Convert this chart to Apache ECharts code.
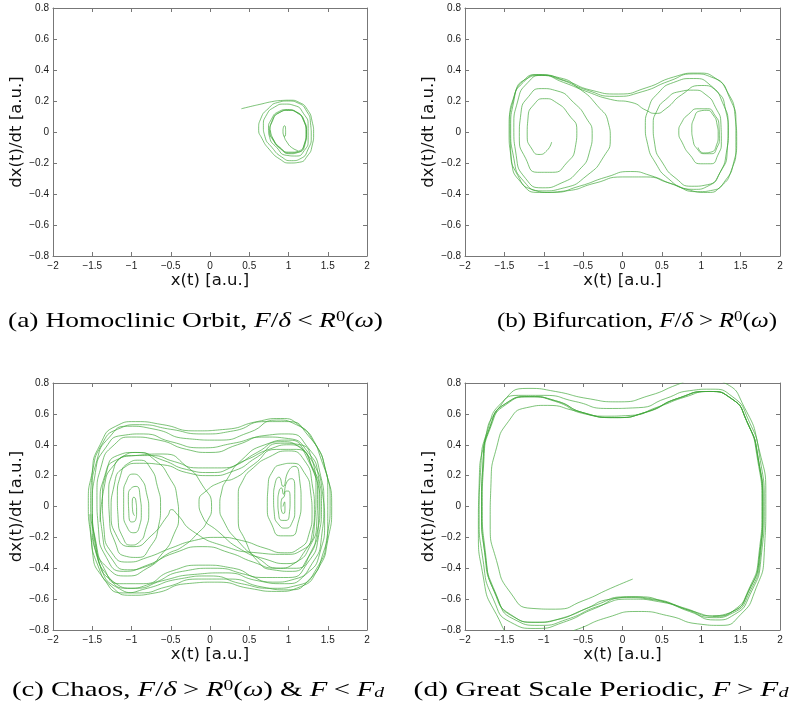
<!DOCTYPE html>
<html>
<head>
<meta charset="utf-8">
<script src="https://cdn.jsdelivr.net/npm/echarts@6/dist/echarts.min.js"></script>
<style>
  html, body { margin: 0; padding: 0; background: #fff; }
  #chart { width: 792px; height: 712px; }
</style>
</head>
<body>
<div id="chart"></div>
<script>
// Phase portraits of a driven double-well oscillator: x(t) against dx(t)/dt.

const xLimits = [-2, 2];
const xStep = 0.5;
const vLimits = [-0.8, 0.8];
const vStep = 0.2;
const xAxisTitle = 'x(t) [a.u.]';
const vAxisTitle = 'dx(t)/dt [a.u.]';

// (a) homoclinic orbit: transient settling onto the small cycle of the right well
const homoclinicOrbit = [
  [0.40,0.15],[0.52,0.165],[0.65,0.18],[0.78,0.195],[0.90,0.203],[1.02,0.205],[1.14,0.19],[1.24,0.145],
  [1.30,0.07],[1.32,-0.01],[1.30,-0.09],[1.24,-0.155],[1.14,-0.195],[1.02,-0.2],[0.89,-0.175],[0.76,-0.115],
  [0.66,-0.04],[0.62,0.02],[0.65,0.09],[0.74,0.15],[0.86,0.19],[1.0,0.2],[1.13,0.185],[1.23,0.135],
  [1.28,0.06],[1.29,-0.03],[1.25,-0.11],[1.16,-0.17],[1.04,-0.185],[0.91,-0.16],[0.79,-0.1],[0.7,-0.03],
  [0.68,0.04],[0.72,0.11],[0.82,0.16],[0.95,0.18],[1.08,0.17],[1.19,0.12],[1.25,0.04],[1.25,-0.05],
  [1.2,-0.12],[1.1,-0.155],[0.97,-0.15],[0.85,-0.1],[0.76,-0.035],[0.745,0.02],[0.78,0.08],[0.87,0.13],
  [0.99,0.145],[1.1,0.13],[1.19,0.08],[1.23,0.0],[1.21,-0.08],[1.13,-0.13],[1.02,-0.14],[0.9,-0.11],
  [0.8,-0.05],[0.76,0.0],[0.79,0.07],[0.88,0.125],[1.0,0.14],[1.11,0.125],[1.19,0.075],[1.225,0.0],
  [1.2,-0.08],[1.12,-0.125],[1.02,-0.135],[0.9,-0.105],[0.8,-0.045],[0.765,0.005],[0.795,0.07],[0.885,0.125],
  [1.0,0.14],[1.12,0.12],[1.2,0.07],[1.225,-0.01],[1.2,-0.085],[1.11,-0.13],[1.0,-0.13],[0.89,-0.1],
  [0.8,-0.04],[0.77,0.01]
];
const homoclinicCore = [
  [1.12,-0.12],[1.04,-0.1],[0.98,-0.065],[0.945,-0.03],[0.93,0.005],[0.935,0.03],[0.95,0.04],[0.962,0.025],
  [0.963,-0.005],[0.953,-0.028],[0.938,-0.025]
];

// (b) bifurcation: left-well spiral, hops across, ends circling the right well
const bifurcationPath = [
  [-0.90,-0.065],[-0.96,-0.12],[-1.06,-0.145],[-1.15,-0.11],[-1.21,-0.02],[-1.2,0.09],[-1.12,0.18],[-0.99,0.215],
  [-0.84,0.19],[-0.68,0.11],[-0.58,0.01],[-0.6,-0.1],[-0.71,-0.2],[-0.89,-0.26],[-1.08,-0.26],[-1.23,-0.17],
  [-1.31,-0.03],[-1.29,0.12],[-1.19,0.23],[-1.03,0.28],[-0.83,0.265],[-0.62,0.19],[-0.46,0.09],[-0.385,-0.01],
  [-0.42,-0.13],[-0.56,-0.25],[-0.78,-0.33],[-1.02,-0.36],[-1.23,-0.3],[-1.35,-0.15],[-1.38,0.03],[-1.33,0.2],
  [-1.2,0.32],[-1.02,0.365],[-0.8,0.35],[-0.55,0.28],[-0.32,0.17],[-0.18,0.06],[-0.155,-0.04],[-0.24,-0.16],
  [-0.45,-0.28],[-0.74,-0.36],[-1.02,-0.38],[-1.25,-0.32],[-1.38,-0.17],[-1.42,0.02],[-1.38,0.2],[-1.26,0.33],
  [-1.07,0.37],[-0.8,0.34],[-0.45,0.27],[-0.1,0.23],[0.25,0.26],[0.6,0.33],[0.9,0.375],[1.15,0.35],
  [1.33,0.26],[1.43,0.1],[1.45,-0.06],[1.41,-0.2],[1.31,-0.31],[1.15,-0.375],[0.95,-0.385],[0.65,-0.34],[0.35,-0.28],
  [0.1,-0.255],[-0.2,-0.29],[-0.55,-0.35],[-0.9,-0.39],[-1.15,-0.37],[-1.33,-0.28],[-1.42,-0.12],[-1.43,0.07],
  [-1.37,0.24],[-1.23,0.34],[-1.03,0.365],[-0.75,0.32],[-0.45,0.26],[-0.15,0.21],[0.12,0.19],[0.3,0.14],
  [0.42,0.12],[0.55,0.15],[0.75,0.24],[1.0,0.3],[1.2,0.26],[1.31,0.14],[1.345,0.0],[1.32,-0.13],[1.24,-0.26],
  [1.1,-0.345],[0.9,-0.37],[0.6,-0.33],[0.3,-0.29],[0.0,-0.29],[-0.35,-0.33],[-0.72,-0.38],[-1.05,-0.39],
  [-1.28,-0.33],[-1.41,-0.18],[-1.44,0.02],[-1.39,0.2],[-1.26,0.32],[-1.05,0.37],[-0.72,0.33],[-0.4,0.27],
  [-0.05,0.245],[0.3,0.285],[0.65,0.355],[0.95,0.38],[1.2,0.34],[1.36,0.22],[1.44,0.06],[1.44,-0.1],[1.38,-0.25],
  [1.25,-0.35],[1.08,-0.39],[0.82,-0.37],[0.58,-0.3],[0.42,-0.2],[0.32,-0.08],[0.29,0.04],[0.33,0.15],
  [0.45,0.25],[0.65,0.32],[0.9,0.345],[1.12,0.3],[1.27,0.19],[1.34,0.04],[1.33,-0.12],[1.24,-0.26],
  [1.08,-0.34],[0.88,-0.35],[0.68,-0.3],[0.51,-0.2],[0.41,-0.08],[0.39,0.04],[0.44,0.14],[0.55,0.21],[0.72,0.26],
  [0.9,0.27],[1.06,0.24],[1.18,0.16],[1.25,0.05],[1.255,-0.06],[1.21,-0.15],[1.12,-0.205],[0.99,-0.205],[0.86,-0.15],
  [0.76,-0.07],[0.715,0.0],[0.75,0.06],[0.84,0.115],[0.96,0.15],[1.08,0.15],[1.17,0.11],[1.225,0.04],[1.23,-0.04],
  [1.2,-0.1],[1.13,-0.14],[1.04,-0.14],[0.95,-0.11],[0.895,-0.05],[0.88,0.02],[0.91,0.09],[0.98,0.135],[1.07,0.14],
  [1.15,0.11],[1.2,0.05],[1.215,-0.02],[1.19,-0.09],[1.12,-0.13],[1.03,-0.135],[0.96,-0.1]
];

// (c) chaos: three pieces of one long wandering trajectory
const chaosLeft = [
  [-0.96,-0.06],[-0.985,-0.03],[-0.99,0.03],[-0.97,0.06],[-0.945,0.04],[-0.935,-0.03],[-0.95,-0.09],[-1.0,-0.1],
  [-1.035,-0.03],[-1.04,0.06],[-1.0,0.12],[-0.94,0.13],[-0.89,0.06],[-0.875,-0.04],[-0.9,-0.13],[-0.97,-0.17],
  [-1.05,-0.14],[-1.1,-0.04],[-1.1,0.08],[-1.06,0.17],[-0.98,0.21],[-0.88,0.18],[-0.81,0.09],[-0.78,-0.03],
  [-0.82,-0.15],[-0.9,-0.23],[-1.01,-0.25],[-1.11,-0.2],[-1.17,-0.08],[-1.18,0.07],[-1.14,0.2],[-1.04,0.28],
  [-0.9,0.3],[-0.76,0.25],[-0.67,0.13],[-0.63,0.0],[-0.66,-0.14],[-0.76,-0.26],[-0.92,-0.33],[-1.09,-0.32],
  [-1.21,-0.23],[-1.28,-0.08],[-1.29,0.08],[-1.24,0.22],[-1.12,0.32],[-0.92,0.35],[-0.7,0.3],[-0.52,0.19],
  [-0.42,0.06],[-0.4,-0.06],[-0.46,-0.18],[-0.6,-0.3],[-0.82,-0.39],[-1.05,-0.41],[-1.25,-0.34],[-1.37,-0.18],
  [-1.4,0.02],[-1.34,0.2],[-1.2,0.3],[-0.95,0.33],[-0.6,0.34],[-0.3,0.26],[-0.1,0.14],[0.02,0.0],
  [-0.04,-0.1],[-0.15,-0.17],[-0.35,-0.26],[-0.55,-0.31],[-0.8,-0.4],[-1.05,-0.45],[-1.3,-0.4],[-1.45,-0.24],
  [-1.5,0.0],[-1.46,0.22],[-1.33,0.38],[-1.12,0.46],[-0.85,0.47],[-0.5,0.42],[-0.1,0.38],[0.3,0.41],
  [0.7,0.45],[1.0,0.44],[1.25,0.35],[1.38,0.2],[1.42,0.0],[1.38,-0.2],[1.25,-0.36],[1.0,-0.46],
  [0.65,-0.46],[0.3,-0.4],[-0.1,-0.38],[-0.5,-0.42],[-0.85,-0.5],[-1.15,-0.5],[-1.35,-0.4],[-1.47,-0.2],
  [-1.52,0.02],[-1.5,0.22],[-1.4,0.4],[-1.2,0.52],[-0.95,0.55],[-0.6,0.53],[-0.2,0.49],[0.2,0.5],
  [0.6,0.55],[0.9,0.57],[1.15,0.52],[1.35,0.4],[1.48,0.22],[1.55,0.0],[1.5,-0.22],[1.38,-0.4],
  [1.15,-0.52],[0.85,-0.55],[0.5,-0.53],[0.1,-0.49],[-0.3,-0.5],[-0.7,-0.56],[-1.0,-0.575],[-1.25,-0.52],
  [-1.43,-0.38],[-1.52,-0.18],[-1.55,0.02],[-1.5,0.22],[-1.38,0.4],[-1.18,0.5],[-0.9,0.53],[-0.5,0.5],
  [-0.1,0.47],[0.3,0.49],[0.7,0.55],[1.0,0.55],[1.25,0.46],[1.42,0.3],[1.5,0.1],[1.5,-0.12],
  [1.43,-0.32],[1.27,-0.47],[1.0,-0.54],[0.65,-0.52],[0.25,-0.47],[-0.15,-0.47],[-0.55,-0.52],[-0.9,-0.56],
  [-1.2,-0.52],[-1.4,-0.38],[-1.49,-0.18]
];
const chaosRight = [
  [0.93,0.0],[0.95,0.03],[0.955,-0.01],[0.94,-0.045],[0.915,-0.035],[0.905,0.01],[0.915,0.05],[0.94,0.06],
  [0.97,0.1],[1.0,0.1],[1.02,0.04],[1.01,-0.05],[0.97,-0.09],[0.92,-0.09],[0.875,-0.05],[0.865,0.03],
  [0.88,0.1],[0.91,0.12],[0.935,0.08],[0.98,0.16],[1.04,0.18],[1.08,0.11],[1.08,-0.02],[1.04,-0.11],
  [0.96,-0.14],[0.88,-0.12],[0.82,-0.05],[0.81,0.06],[0.83,0.15],[0.88,0.19],[0.93,0.13],[1.0,0.23],
  [1.08,0.26],[1.14,0.18],[1.16,0.03],[1.12,-0.11],[1.03,-0.19],[0.9,-0.19],[0.79,-0.12],[0.73,0.0],
  [0.74,0.13],[0.8,0.23],[0.9,0.27],[1.05,0.28],[1.2,0.22],[1.28,0.1],[1.3,-0.05],[1.26,-0.18],
  [1.14,-0.27],[0.95,-0.3],[0.7,-0.27],[0.4,-0.22],[0.1,-0.2],[-0.2,-0.22],[-0.5,-0.27],[-0.8,-0.33],
  [-1.05,-0.36],[-1.25,-0.3],[-1.35,-0.15],[-1.37,0.05],[-1.32,0.22],[-1.18,0.33],[-0.95,0.35],[-0.6,0.3],
  [-0.3,0.24],[0.0,0.22],[0.3,0.26],[0.6,0.35],[0.9,0.42],[1.15,0.38],[1.3,0.25],[1.37,0.08],
  [1.36,-0.1],[1.27,-0.26],[1.1,-0.36],[0.85,-0.4],[0.55,-0.36],[0.25,-0.3],[-0.1,-0.26],[-0.45,-0.3],
  [-0.8,-0.38],[-1.1,-0.42],[-1.32,-0.33],[-1.42,-0.15],[-1.44,0.07],[-1.38,0.27],[-1.22,0.4],[-1.0,0.45],
  [-0.65,0.43],[-0.3,0.37],[0.0,0.35],[0.35,0.4],[0.7,0.46],[1.0,0.47],[1.25,0.38],[1.4,0.22],
  [1.45,0.02],[1.42,-0.2],[1.3,-0.37],[1.08,-0.47],[0.8,-0.49],[0.45,-0.44],[0.05,-0.4],[-0.35,-0.42],
  [-0.75,-0.5],[-1.05,-0.53],[-1.3,-0.45],[-1.45,-0.28],[-1.5,-0.05]
];
const chaosArcs = [
  [-1.4,-0.1],[-1.35,0.12],[-1.22,0.27],[-1.0,0.33],[-0.75,0.33],[-0.45,0.29],[-0.15,0.25],[0.15,0.25],
  [0.45,0.3],[0.75,0.37],[1.02,0.4],[1.25,0.3],[1.35,0.1],[1.33,-0.12],[1.22,-0.28],[0.98,-0.37],
  [0.7,-0.34],[0.4,-0.28],[0.1,-0.16],[-0.1,-0.06],[-0.14,0.03],[-0.05,0.1],[0.15,0.16],[0.3,0.18],
  [0.55,0.27],[0.85,0.37],[1.1,0.37],[1.3,0.26],[1.39,0.08],[1.38,-0.12],[1.28,-0.3],[1.1,-0.4],
  [0.9,-0.4],[0.6,-0.33],[0.35,-0.22],[0.18,-0.1],[0.125,0.0],[0.15,0.1],[0.21,0.17],[0.4,0.3],
  [0.7,0.4],[1.0,0.43],[1.22,0.35],[1.35,0.2],[1.4,0.0],[1.36,-0.18],[1.25,-0.33],[1.05,-0.42],
  [0.8,-0.41],[0.6,-0.35],[0.45,-0.22],[0.36,-0.08],[0.36,0.06],[0.42,0.17],[0.55,0.25],[0.75,0.32],
  [1.0,0.36],[1.2,0.3],[1.3,0.15],[1.33,-0.02],[1.3,-0.18],[1.18,-0.28],[0.95,-0.31],[0.6,-0.3],
  [0.2,-0.26],[-0.22,-0.16],[-0.42,-0.05],[-0.49,-0.02],[-0.54,-0.06],[-0.75,-0.19],[-0.98,-0.26],[-1.18,-0.2],
  [-1.26,-0.03],[-1.22,0.14],[-1.1,0.25],[-0.9,0.28],[-0.6,0.27],[-0.3,0.22],[0.0,0.2],[0.3,0.23],
  [0.6,0.32],[0.9,0.41],[1.15,0.4],[1.32,0.28],[1.43,0.1],[1.46,-0.1],[1.4,-0.3],[1.22,-0.44],
  [0.95,-0.5],[0.6,-0.48],[0.2,-0.43],[-0.2,-0.44],[-0.6,-0.48],[-0.95,-0.53],[-1.25,-0.48],[-1.43,-0.33],
  [-1.5,-0.12],[-1.5,0.1],[-1.44,0.3],[-1.28,0.45],[-1.05,0.52],[-0.7,0.5],[-0.3,0.44],[0.1,0.43],
  [0.5,0.48],[0.85,0.56],[1.1,0.53],[1.32,0.42],[1.47,0.24],[1.53,0.03],[1.49,-0.2],[1.36,-0.4],
  [1.12,-0.51],[0.8,-0.53],[0.4,-0.5],[0.0,-0.45],[-0.4,-0.47],[-0.8,-0.53],[-1.1,-0.56],[-1.35,-0.47],
  [-1.5,-0.28],[-1.53,-0.05]
];

// (d) great scale periodic: orbit encircling both wells, converging to a large cycle
const periodicPath = [
  [0.13,-0.47],[-0.15,-0.53],[-0.5,-0.61],[-0.85,-0.665],[-1.15,-0.66],[-1.42,-0.56],[-1.6,-0.35],[-1.68,-0.1],
  [-1.67,0.15],[-1.6,0.38],[-1.45,0.55],[-1.22,0.64],[-0.95,0.655],[-0.6,0.62],[-0.25,0.585],[0.1,0.59],
  [0.45,0.645],[0.8,0.71],[1.1,0.745],[1.38,0.7],[1.58,0.55],[1.71,0.32],[1.77,0.0],[1.73,-0.32],
  [1.6,-0.54],[1.42,-0.67],[1.2,-0.71],[0.9,-0.68],[0.55,-0.62],[0.2,-0.585],[-0.15,-0.6],[-0.5,-0.67],
  [-0.85,-0.735],[-1.1,-0.75],[-1.4,-0.71],[-1.62,-0.55],[-1.74,-0.3],[-1.78,0.0],[-1.76,0.3],[-1.67,0.52],
  [-1.48,0.66],[-1.18,0.71],[-0.85,0.68],[-0.48,0.6],[-0.1,0.576],[0.3,0.61],[0.7,0.7],[1.1,0.745],
  [1.38,0.7],[1.58,0.55],[1.72,0.32],[1.78,0.0],[1.74,-0.32],[1.6,-0.55],[1.4,-0.68],[1.15,-0.71],
  [0.8,-0.66],[0.4,-0.6],[0.05,-0.585],[-0.35,-0.64],[-0.75,-0.72],[-1.1,-0.75],[-1.42,-0.7],[-1.63,-0.55],
  [-1.75,-0.3],[-1.79,0.0],[-1.77,0.3],[-1.68,0.52],[-1.49,0.665],[-1.18,0.712],[-0.85,0.685],[-0.48,0.605],
  [-0.1,0.576],[0.3,0.612],[0.7,0.7],[1.1,0.745],[1.38,0.7],[1.58,0.55],[1.72,0.32],[1.785,0.0],
  [1.75,-0.32],[1.61,-0.56],[1.4,-0.69],[1.15,-0.72],[0.8,-0.665],[0.4,-0.605],[0.05,-0.59],[-0.35,-0.66],
  [-0.75,-0.75],[-1.1,-0.79],[-1.42,-0.75],[-1.64,-0.6],[-1.77,-0.35],[-1.82,-0.05],[-1.8,0.25],[-1.71,0.5],
  [-1.52,0.68],[-1.2,0.765],[-0.85,0.745],[-0.45,0.7],[-0.05,0.678],[0.35,0.72],[0.7,0.79],[1.0,0.84],
  [1.3,0.8],[1.55,0.64],[1.73,0.38],[1.82,0.05],[1.8,-0.3],[1.68,-0.55],[1.5,-0.7],[1.25,-0.77],
  [0.95,-0.76],[0.6,-0.71],[0.2,-0.68],[-0.2,-0.72],[-0.6,-0.8],[-1.0,-0.86],[-1.35,-0.84],[-1.6,-0.7],
  [-1.77,-0.45],[-1.83,-0.15],[-1.82,0.15],[-1.75,0.42],[-1.58,0.63],[-1.32,0.72],[-1.0,0.72],[-0.6,0.68],
  [-0.2,0.635],[0.2,0.64],[0.55,0.7],[0.85,0.75],[1.12,0.76],[1.4,0.71],[1.6,0.56],[1.74,0.33],
  [1.8,0.0],[1.76,-0.33],[1.62,-0.57],[1.42,-0.7],[1.18,-0.735],[0.85,-0.68],[0.5,-0.62],[0.1,-0.6],
  [-0.3,-0.645],[-0.7,-0.73],[-1.05,-0.77],[-1.38,-0.73],[-1.6,-0.58],[-1.74,-0.33],[-1.79,-0.02],[-1.77,0.29],
  [-1.68,0.52],[-1.49,0.665],[-1.18,0.712],[-0.85,0.685],[-0.48,0.605],[-0.1,0.576],[0.3,0.612],[0.7,0.7],
  [1.1,0.745],[1.38,0.7],[1.58,0.55],[1.72,0.32],[1.78,-0.01],[1.74,-0.32],[1.6,-0.55],[1.4,-0.68],
  [1.15,-0.71]
];

// Sub-figure captions (rich-text markup: r = roman, i = italic, o = relation, s = superscript, b = subscript)
const captions = [
  '{r|(a) Homoclinic Orbit, }{i|F}{r|/}{i|δ}{o|<}{i|R}{s|0}{r|(}{i|ω}{r|)}',
  '{r|(b) Bifurcation, }{i|F}{r|/}{i|δ}{o|>}{i|R}{s|0}{r|(}{i|ω}{r|)}',
  '{r|(c) Chaos, }{i|F}{r|/}{i|δ}{o|>}{i|R}{s|0}{r|(}{i|ω}{r|) & }{i|F}{o|<}{i|F}{b|d}',
  '{r|(d) Great Scale Periodic, }{i|F}{o|>}{i|F}{b|d}'
];

const LINE_COLOR = '#3fa637';
const FRAME_COLOR = '#777777';

const panels = [
  { box: { left: 53, top: 8, width: 314, height: 248 }, traces: [homoclinicOrbit, homoclinicCore], cap: [195.5, 321], capScale: 1.25 },
  { box: { left: 465, top: 8, width: 315, height: 248 }, traces: [bifurcationPath], cap: [637, 321], capScale: 1.14 },
  { box: { left: 53, top: 383, width: 314, height: 247 }, traces: [chaosLeft, chaosRight, chaosArcs], cap: [198, 690], capScale: 1.31 },
  { box: { left: 465, top: 383, width: 315, height: 247 }, traces: [periodicPath], cap: [601, 690], capScale: 1.34 }
];

function tickText(v) {
  const s = String(Math.round(v * 100) / 100);
  return s.replace('-', '\u2212');
}

const grid = [], xAxis = [], yAxis = [], series = [], graphic = [];
const frameLine = { lineStyle: { color: FRAME_COLOR, width: 1 } };
const tickIn = { inside: true, length: 4, lineStyle: { color: FRAME_COLOR, width: 1 } };
const labelStyle = { fontFamily: 'Liberation Sans', fontSize: 10, color: '#1a1a1a' };

panels.forEach((p, i) => {
  grid.push(Object.assign({ containLabel: false, outerBoundsMode: 'none' }, p.box));
  const xBase = { gridIndex: i, type: 'value', min: xLimits[0], max: xLimits[1], interval: xStep, splitLine: { show: false } };
  const yBase = { gridIndex: i, type: 'value', min: vLimits[0], max: vLimits[1], interval: vStep, splitLine: { show: false } };
  xAxis.push(Object.assign({}, xBase, {
    position: 'bottom',
    axisLine: Object.assign({ onZero: false }, frameLine),
    axisTick: tickIn,
    axisLabel: Object.assign({ formatter: tickText, margin: 5, showMinLabel: true, showMaxLabel: true }, labelStyle),
    name: xAxisTitle, nameLocation: 'middle', nameGap: 15,
    nameTextStyle: { fontFamily: 'DejaVu Sans', fontSize: 16.5, color: '#111' }
  }));
  xAxis.push(Object.assign({}, xBase, {
    position: 'top',
    axisLine: Object.assign({ onZero: false }, frameLine),
    axisTick: tickIn, axisLabel: { show: false }
  }));
  yAxis.push(Object.assign({}, yBase, {
    position: 'left',
    axisLine: Object.assign({ onZero: false }, frameLine),
    axisTick: tickIn,
    axisLabel: Object.assign({ formatter: tickText, margin: 4, showMinLabel: true, showMaxLabel: true }, labelStyle),
    name: vAxisTitle, nameLocation: 'middle', nameGap: 23,
    nameTextStyle: { fontFamily: 'DejaVu Sans', fontSize: 16.5, color: '#111' }
  }));
  yAxis.push(Object.assign({}, yBase, {
    position: 'right',
    axisLine: Object.assign({ onZero: false }, frameLine),
    axisTick: tickIn, axisLabel: { show: false }
  }));
  p.traces.forEach(tr => {
    series.push({
      type: 'line', xAxisIndex: 2 * i, yAxisIndex: 2 * i, data: tr,
      smooth: 0.6, showSymbol: false, symbol: 'none', clip: true, silent: true,
      lineStyle: { color: LINE_COLOR, width: 0.75, opacity: 0.9 }
    });
  });
  graphic.push({
    type: 'text', x: p.cap[0], y: p.cap[1], scaleX: p.capScale, silent: true,
    style: {
      text: captions[i], align: 'center', verticalAlign: 'middle',
      textAlign: 'center', textVerticalAlign: 'middle',
      fill: '#000',
      rich: {
        r: { fontFamily: 'Liberation Serif', fontSize: 22, fill: '#000' },
        i: { fontFamily: 'Liberation Serif', fontStyle: 'italic', fontSize: 22, fill: '#000' },
        o: { fontFamily: 'Liberation Serif', fontSize: 22, fill: '#000', padding: [0, 5, 0, 5] },
        s: { fontFamily: 'Liberation Serif', fontSize: 15, verticalAlign: 'top', fill: '#000' },
        b: { fontFamily: 'Liberation Serif', fontStyle: 'italic', fontSize: 15, verticalAlign: 'bottom', fill: '#000' }
      }
    }
  });
});

const chart = echarts.init(document.getElementById('chart'), null, { renderer: 'canvas' });
chart.setOption({
  animation: false,
  backgroundColor: '#fff',
  grid, xAxis, yAxis, series, graphic
});
</script>
</body>
</html>
